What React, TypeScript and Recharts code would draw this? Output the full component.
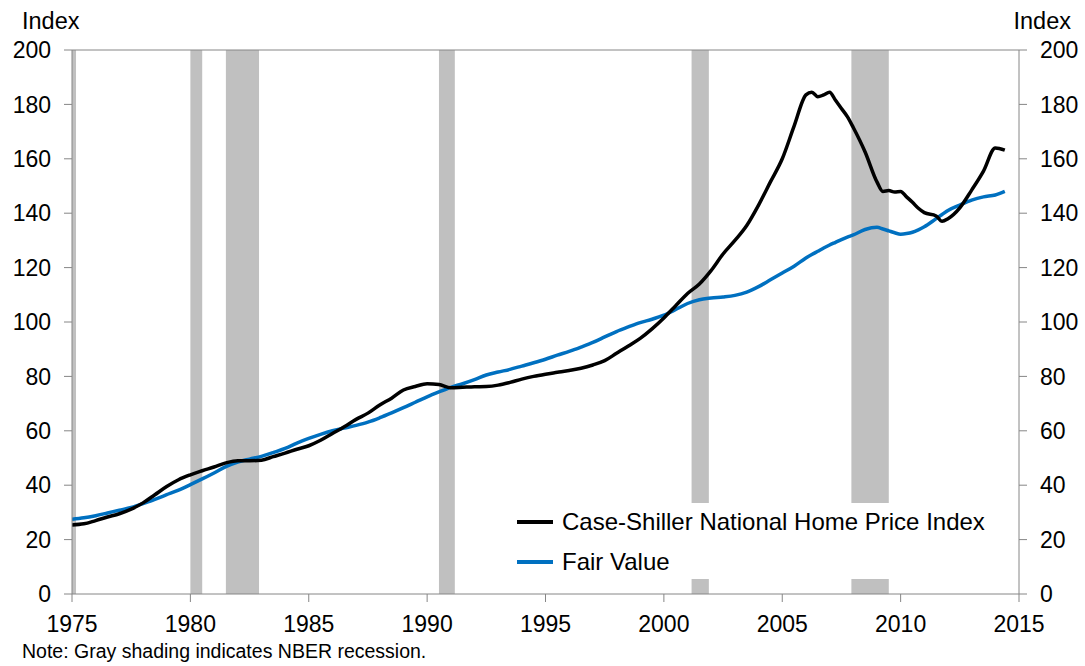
import React from "react"
import {
  LineChart,
  Line,
  XAxis,
  YAxis,
  ReferenceArea,
  ReferenceLine,
  Legend
} from "recharts"

const years = [
  1975, 1975.5, 1976, 1976.5, 1977, 1977.5, 1978, 1978.5, 1979, 1979.5,
  1980, 1980.5, 1981, 1981.5, 1982, 1982.5, 1983, 1983.5, 1984, 1984.5,
  1985, 1985.5, 1986, 1986.5, 1987, 1987.5, 1988, 1988.5, 1989, 1989.5,
  1990, 1990.5, 1991, 1991.5, 1992, 1992.5, 1993, 1993.5, 1994, 1994.5,
  1995, 1995.5, 1996, 1996.5, 1997, 1997.5, 1998, 1998.5, 1999, 1999.5,
  2000, 2000.5, 2001, 2001.5, 2002, 2002.5, 2003, 2003.5, 2004, 2004.5,
  2005, 2005.5, 2006, 2006.25, 2006.5, 2006.75, 2007, 2007.25, 2007.5, 2007.75,
  2008, 2008.5, 2009, 2009.25, 2009.5, 2009.75, 2010, 2010.25, 2010.5, 2010.75,
  2011, 2011.5, 2011.75, 2012, 2012.5, 2013, 2013.5, 2014, 2014.4
]

const caseShiller = [
  25.4, 25.8, 27.0, 28.3, 29.5, 31.2, 33.5, 36.5, 39.5, 42.0,
  43.8, 45.3, 46.7, 48.2, 49.0, 49.0, 49.2, 50.5, 51.8, 53.2,
  54.5, 56.5, 59.0, 61.5, 64.2, 66.5, 69.5, 72.0, 75.0, 76.3,
  77.3, 77.0, 75.8, 76.0, 76.2, 76.3, 76.8, 77.8, 79.0, 80.0,
  80.8, 81.5, 82.2, 83.0, 84.2, 85.8, 88.5, 91.2, 94.0, 97.5,
  101.5, 106.0, 110.5, 114.0, 119.0, 125.0, 130.0, 135.5, 143.0, 151.5,
  160.0, 172.0, 183.5, 184.5, 182.8, 183.5, 184.5, 181.5, 178.5, 175.5,
  171.5, 162.5, 151.5, 148.0, 148.3, 147.8, 148.0, 146.0, 144.0, 141.8,
  140.2, 139.0, 137.0, 138.0, 142.0, 148.5, 155.5, 164.0, 163.2
]

const fairValue = [
  27.5, 28.0, 28.8, 29.8, 30.8, 31.8, 33.2, 34.8, 36.5, 38.2,
  40.2, 42.3, 44.5, 46.8, 48.5, 49.6, 50.6, 52.0, 53.5, 55.5,
  57.2, 58.7, 60.0, 61.0, 62.0, 63.2, 64.8, 66.6, 68.5, 70.5,
  72.5, 74.3, 76.0, 77.3, 78.8, 80.5, 81.6, 82.6, 83.8, 85.0,
  86.3, 87.8, 89.2, 90.8, 92.5, 94.5, 96.5, 98.2, 99.8, 101.0,
  102.5, 104.6, 106.8, 108.2, 108.8, 109.2, 109.8, 111.0, 113.0, 115.5,
  118.0, 120.5, 123.5, 124.8, 126.0, 127.2, 128.3, 129.3, 130.3, 131.2,
  132.0, 134.0, 134.8, 134.2, 133.5, 132.8, 132.3, 132.5, 133.0, 133.9,
  135.0, 138.0, 139.5, 141.0, 143.0, 144.8, 146.0, 146.7, 148.0
]

// NBER recessions, as fractional years
const recessionStart = [1975.0, 1980.0, 1981.5, 1990.5, 2001.17, 2007.92]
const recessionEnd = [1975.17, 1980.5, 1982.9, 1991.17, 2001.9, 2009.5]

const xTicks = [1975, 1980, 1985, 1990, 1995, 2000, 2005, 2010, 2015]
const yTicks = [0, 20, 40, 60, 80, 100, 120, 140, 160, 180, 200]

const seriesNames = ["Case-Shiller National Home Price Index", "Fair Value"]

const data = years.map((year, i) => ({
  year,
  cs: caseShiller[i],
  fv: fairValue[i]
}))

const FONT = "'Liberation Sans', Arial, sans-serif"
const AXIS = "#868686"
const tickStyle = { fontFamily: FONT, fontSize: 23, fill: "#000" }

const LegendBox = ({ payload }: any) => {
  const items = seriesNames
    .map((n) => (payload || []).find((p: any) => p.value === n))
    .filter(Boolean)
  return (
    <div style={{ fontFamily: FONT, fontSize: 24, color: "#000" }}>
      {items.map((p: any, i: number) => (
        <div
          key={i}
          style={{ display: "flex", alignItems: "center", height: 40, marginTop: i === 0 ? -1 : 0 }}
        >
          <span
            style={{
              display: "inline-block",
              width: 36,
              height: 4,
              background: p.color,
              marginLeft: 12,
              marginRight: 9
            }}
          />
          <span>{p.value}</span>
        </div>
      ))}
    </div>
  )
}

export default function App() {
  return (
    <div style={{ position: "absolute", left: 0, top: 0, width: 1085, height: 666, background: "#fff" }}>
      <LineChart
        width={1085}
        height={666}
        data={data}
        margin={{ top: 50, right: 0, left: 0, bottom: 32 }}
      >
        {recessionStart.map((s, i) => (
          <ReferenceArea
            key={i}
            yAxisId="left"
            x1={s}
            x2={recessionEnd[i]}
            fill="#c0c0c0"
            fillOpacity={1}
            stroke="none"
          />
        ))}
        <XAxis
          dataKey="year"
          type="number"
          domain={[1975, 2015]}
          ticks={xTicks}
          height={40}
          tickSize={8}
          tickMargin={14}
          tick={tickStyle}
          stroke={AXIS}
          allowDataOverflow
        />
        <YAxis
          yAxisId="left"
          domain={[0, 200]}
          ticks={yTicks}
          width={72}
          tickSize={8}
          tickMargin={13}
          tick={tickStyle}
          stroke={AXIS}
        />
        <YAxis
          yAxisId="right"
          orientation="right"
          domain={[0, 200]}
          ticks={yTicks}
          width={66}
          tickSize={8}
          tickMargin={13}
          tick={tickStyle}
          stroke={AXIS}
        />
        <ReferenceLine yAxisId="left" y={200} stroke={AXIS} />
        <Line
          yAxisId="right"
          type="monotone"
          dataKey="fv"
          name={seriesNames[1]}
          stroke="#0070c0"
          strokeWidth={3.5}
          dot={false}
          isAnimationActive={false}
        />
        <Line
          yAxisId="left"
          type="monotone"
          dataKey="cs"
          name={seriesNames[0]}
          stroke="#000"
          strokeWidth={3.5}
          dot={false}
          isAnimationActive={false}
        />
        <Legend
          layout="vertical"
          align="center"
          verticalAlign="middle"
          content={(props: any) => <LegendBox payload={props.payload} />}
          wrapperStyle={{
            left: 505,
            top: 503,
            width: 492,
            height: 76,
            backgroundColor: "#fff"
          }}
        />
      </LineChart>
      <svg
        width={1085}
        height={666}
        style={{ position: "absolute", left: 0, top: 0, pointerEvents: "none" }}
      >
        <text x={22} y={28.5} fontFamily={FONT} fontSize={23.5} fill="#000">Index</text>
        <text x={1071} y={28.5} fontFamily={FONT} fontSize={23.5} fill="#000" textAnchor="end">Index</text>
        <text x={22} y={658} fontFamily={FONT} fontSize={19.5} fill="#000">
          Note: Gray shading indicates NBER recession.
        </text>
      </svg>
    </div>
  )
}
